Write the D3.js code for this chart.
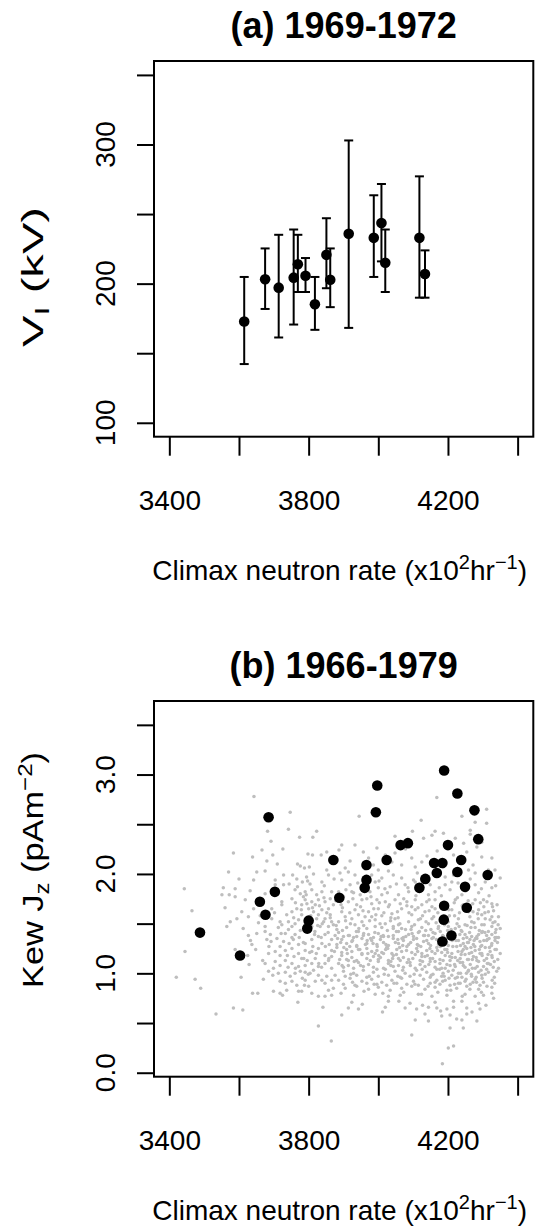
<!DOCTYPE html>
<html>
<head>
<meta charset="utf-8">
<script src="https://cdn.jsdelivr.net/npm/d3@7"></script>
<style>
  html, body { margin: 0; padding: 0; background: #fff; }
  svg { display: block; }
  text { font-family: "Liberation Sans", Arial, Helvetica, sans-serif; fill: #000; }
  .tick text, .lab { font-size: 28px; }
  .ytitle { font-size: 30px; }
  .title { font-size: 36px; font-weight: bold; }
</style>
</head>
<body>
<svg id="chart" width="540" height="1226"></svg>
<script>
// (a) 1969-1972 : V_I against Climax neutron rate, with error bars
const neutronA = [3615, 3675, 3714, 3757, 3769, 3791, 3818, 3851, 3862, 3915, 3987, 4009, 4020, 4118, 4134];
const vI       = [172.8, 203.1, 197.1, 204.3, 213.9, 205.7, 185.2, 220.7, 202.8, 235.8, 232.9, 243.6, 215.0, 232.9, 206.9];
const vILow    = [142.2, 181.8, 161.3, 170.6, 194.0, 194.0, 166.8, 196.7, 183.1, 168.2, 204.8, 216.0, 194.0, 189.9, 189.9];
const vIHigh   = [204.8, 225.3, 235.1, 238.9, 235.1, 218.4, 204.8, 247.0, 225.3, 302.9, 263.5, 271.6, 238.9, 277.1, 223.9];

// (b) 1966-1979 : Kew Jz, the selected days (black)
const neutronB = [3488, 3603, 3685, 3660, 3676, 3703, 3800, 3796, 3871, 3888, 3966, 3966, 3961, 3997, 3993, 4024, 4064, 4085, 4118,
                  4135, 4160, 4184, 4168, 4189, 4227, 4276, 4287, 4200, 4238, 4227, 4314, 4249, 4189, 4254, 4188, 4210, 4184];
const kewJz    = [1.41, 1.18, 2.57, 1.72, 1.59, 1.82, 1.53, 1.45, 2.14, 1.76, 2.09, 1.94, 1.86, 2.89, 2.62, 2.14, 2.29, 2.31, 1.86,
                  1.95, 2.11, 2.11, 2.01, 3.04, 2.81, 2.64, 2.35, 2.29, 2.14, 2.02, 1.99, 1.87, 1.68, 1.66, 1.54, 1.38, 1.32];

// (b) all other days (grey cloud), "neutron,Jz" pairs
const grayPairs = `
3643,2.78 3747,2.62 3682,2.43 3742,2.45 3823,2.43 3774,2.37 3812,2.37 3692,2.33 3726,2.25 3666,2.24 3584,2.21 3639,2.17
3697,2.19 3680,2.13 3710,2.10 3798,2.20 3811,2.19 3836,2.19 3852,2.22 3768,2.10 3776,2.08 3802,2.07 3788,2.06 3570,2.02
3651,2.02 3675,2.03 3728,1.99 3754,1.99 3766,1.95 3794,1.97 3814,2.00 3852,2.04 3857,1.99 3600,1.95 3642,1.94 3704,1.94
3704,1.89 3728,1.89 3744,1.90 3782,1.92 3804,1.90 3838,1.92 3443,1.85 3555,1.86 3589,1.85 3572,1.79 3632,1.83 3675,1.80
3656,1.75 3761,1.84 3776,1.80 3790,1.82 3809,1.84 3823,1.79 3838,1.82 3866,1.82 3551,1.79 3589,1.77 3618,1.74 3723,1.72
3752,1.75 3790,1.74 3809,1.72 3828,1.74 3847,1.72 3862,1.75 3465,1.63 3560,1.66 3608,1.62 3642,1.65 3694,1.65 3723,1.69
3752,1.62 3780,1.69 3800,1.65 3819,1.69 3838,1.64 3857,1.65 3871,1.69 3575,1.52 3594,1.55 3627,1.57 3656,1.51 3694,1.55
3718,1.52 3742,1.52 3771,1.54 3823,1.55 3847,1.55 3866,1.52 3565,1.47 3675,1.47 3713,1.46 3752,1.47 3790,1.49 3785,1.77
3795,1.70 3814,1.62 3828,1.59 3843,1.52 3857,1.47 3780,1.59 3766,1.65 3737,1.59 3723,1.49 3800,1.54 3809,1.47 3833,1.47
3862,1.59 3871,1.49
4168,2.77 4311,2.65 3945,2.58 4240,2.58 4278,2.52 4311,2.51 4123,2.54 4163,2.43 4130,2.36 4154,2.39 4187,2.41 4264,2.44
4264,2.40 4098,2.43 4048,2.38 4221,2.36 4297,2.32 3996,2.26 3895,2.29 3933,2.29 3887,2.24 4020,2.19 3972,2.16 4048,2.21
4096,2.16 4125,2.12 4216,2.19 4254,2.22 4297,2.17 4326,2.16 4067,2.09 4000,2.04 4029,2.03 4106,2.07 3890,2.01 3914,2.02
3933,1.99 3981,1.99 4010,1.96 4043,1.99 4067,1.96 4101,1.94 4192,1.97 4216,1.99 4259,2.04 4278,2.01 4335,2.04 4350,1.96
3895,1.94 3919,1.89 3991,1.92 4000,1.86 4034,1.87 4077,1.89 4106,1.92 4149,1.89 4192,1.89 4211,1.92 4278,1.89 4307,1.92
3886,1.82 3924,1.82 3948,1.79 3976,1.82 4010,1.79 4058,1.79 4087,1.82 4144,1.79 4163,1.82 4206,1.84 4240,1.79 4288,1.81
4326,1.86 3914,1.72 3953,1.74 3981,1.70 4020,1.72 4048,1.74 4082,1.72 4106,1.74 4139,1.72 4163,1.74 4221,1.74 4278,1.74
4302,1.74 4326,1.70 3895,1.62 3933,1.64 3972,1.62 4000,1.65 4039,1.60 4067,1.65 4106,1.64 4134,1.62 4163,1.65 4211,1.64
4288,1.64 4316,1.62 3886,1.52 3924,1.55 3953,1.52 3991,1.54 4020,1.50 4048,1.55 4087,1.52 4115,1.54 4154,1.55 4201,1.52
4230,1.55 4268,1.52 4307,1.55 4335,1.52 3909,1.46 3967,1.45 4010,1.46 4067,1.45 4125,1.46 4173,1.47 4221,1.45 4278,1.46
4326,1.47 4350,1.45 3900,1.77 3938,1.69 3967,1.75 3996,1.74 4029,1.67 4063,1.70 4096,1.67 4125,1.69 4154,1.67 4182,1.70
4244,1.69 4259,1.62 4297,1.59 4326,1.57 3905,1.57 3943,1.59 3981,1.57 4010,1.58 4058,1.49 4096,1.59 4144,1.50 4182,1.57
4249,1.49 4297,1.49 3933,1.49 3991,1.47 4043,1.47 4096,1.47 4201,1.47 4345,1.57
3627,1.38 3651,1.40 3675,1.42 3637,1.29 3589,1.24 3625,1.18 3648,1.24 3445,1.22 3629,1.09 3680,1.34 3692,1.32 3709,1.35
3733,1.40 3728,1.32 3744,1.30 3756,1.34 3771,1.29 3790,1.30 3809,1.34 3828,1.37 3847,1.39 3866,1.34 3685,1.20 3704,1.22
3718,1.18 3733,1.23 3752,1.25 3771,1.20 3790,1.23 3809,1.22 3828,1.25 3847,1.18 3866,1.23 3675,1.10 3704,1.12 3718,1.08
3733,1.13 3752,1.10 3771,1.07 3790,1.08 3809,1.10 3828,1.07 3847,1.10 3866,1.05 3420,0.96 3474,0.94 3606,0.96 3490,0.85
3670,0.94 3685,1.02 3713,1.00 3733,1.01 3747,0.97 3776,1.02 3790,1.01 3804,1.00 3828,0.98 3852,0.97 3866,0.93 3718,0.92
3733,0.90 3752,0.92 3790,0.93 3819,0.92 3847,0.90 3639,0.80 3654,0.80 3699,0.82 3718,0.80 3725,0.78 3771,0.82 3780,0.82
3809,0.80 3828,0.77 3847,0.77 3769,0.71 3841,0.66 3534,0.59 3584,0.65 3611,0.63 3828,0.47 3865,0.32 3690,1.39 3718,1.27
3761,1.39 3780,1.15 3819,1.15 3838,1.30 3857,1.13 3699,1.05 3761,1.00 3814,1.03 3838,0.93 3766,0.88 3800,0.87 3737,0.83
3871,0.85 3866,0.78
3886,1.41 3914,1.38 3943,1.42 3972,1.39 4000,1.40 4029,1.37 4058,1.42 4087,1.39 4115,1.41 4144,1.38 4163,1.40 4240,1.42
4268,1.37 4297,1.41 4326,1.39 4345,1.36
3895,1.34 3924,1.32 3953,1.35 3981,1.33 4015,1.31 4043,1.35 4072,1.33 4101,1.34 4130,1.32 4154,1.35 4230,1.33 4259,1.31
4283,1.35 4311,1.33
3881,1.26 3909,1.24 3938,1.27 3967,1.25 3996,1.23 4024,1.26 4053,1.24 4082,1.27 4110,1.25 4139,1.23 4168,1.26 4197,1.24
4225,1.27 4254,1.25 4278,1.23 4307,1.26 4335,1.24
3895,1.18 3924,1.16 3953,1.19 3986,1.17 4015,1.20 4043,1.18 4072,1.16 4106,1.19 4134,1.17 4163,1.20 4192,1.18 4221,1.16
4249,1.19 4273,1.17 4297,1.20 4326,1.18
3886,1.10 3914,1.08 3943,1.11 3972,1.09 4000,1.12 4029,1.10 4058,1.08 4091,1.11 4120,1.09 4149,1.12 4177,1.10 4206,1.08
4235,1.11 4264,1.09 4288,1.12 4316,1.10
3900,1.02 3929,1.00 3957,1.03 3986,1.01 4020,1.04 4048,1.02 4077,1.00 4110,1.03 4139,1.01 4168,1.04 4201,1.02 4230,1.00
4259,1.03 4288,1.01 4311,1.04 4340,1.02
3886,0.93 3919,0.95 3953,0.92 3981,0.94 4010,0.91 4039,0.93 4067,0.95 4101,0.92 4130,0.94 4163,0.91 4192,0.93 4221,0.95
4249,0.92 4278,0.94 4302,0.91
3905,0.85 3938,0.87 3972,0.84 4000,0.86 4034,0.83 4067,0.85 4096,0.87 4134,0.84 4163,0.86 4197,0.83 4225,0.85 4254,0.87
4288,0.84 4326,0.86
3929,0.78 3991,0.79 4029,0.77 4063,0.78 4115,0.79 4154,0.77 4197,0.78 4249,0.79 4278,0.77 4302,0.78
3924,0.71 4029,0.72 4091,0.70 4163,0.71 4240,0.72 4288,0.70
3914,0.65 3943,0.64 4020,0.66 4077,0.65 4110,0.64 4144,0.66 4168,0.65 4197,0.64 4216,0.66 4254,0.65 4292,0.64
3895,0.58 4134,0.59 4182,0.57 4206,0.58 4254,0.59 4106,0.53 4144,0.52 4225,0.54 4240,0.53 4283,0.52
4206,0.45 4244,0.45 4096,0.38 4201,0.25 4216,0.27 4184,0.09
4340,1.36 4334,0.90 4326,0.80 4350,1.20 4345,1.05
3900,1.37 3929,1.36 3957,1.38 3986,1.36 4015,1.37 4043,1.38 4072,1.36 4101,1.37 4130,1.38 4158,1.36 4187,1.37 4216,1.38
4254,1.36 4283,1.37 4311,1.38 4335,1.36
3881,1.29 3909,1.30 3938,1.28 3967,1.30 3996,1.29 4029,1.28 4058,1.30 4087,1.29 4115,1.28 4144,1.30 4173,1.29 4201,1.28
4244,1.30 4273,1.29 4297,1.28 4326,1.30
3895,1.21 3924,1.22 3953,1.20 3981,1.22 4010,1.21 4039,1.20 4067,1.22 4096,1.21 4125,1.20 4154,1.22 4182,1.21 4211,1.20
4240,1.22 4268,1.21 4292,1.20 4321,1.22
3909,1.14 3938,1.13 3967,1.15 4000,1.14 4029,1.13 4058,1.15 4087,1.14 4120,1.13 4149,1.15 4177,1.14 4206,1.13 4235,1.15
4259,1.14 4283,1.13 4311,1.15
3900,1.06 3929,1.05 3957,1.07 3986,1.06 4015,1.05 4043,1.07 4072,1.06 4106,1.05 4134,1.07 4163,1.06 4192,1.05 4221,1.07
4249,1.06 4278,1.05 4302,1.07 4330,1.06
3905,0.97 3938,0.98 3967,0.96 4000,0.97 4029,0.98 4063,0.96 4091,0.97 4120,0.98 4149,0.96 4182,0.97 4211,0.98 4240,0.96
4268,0.97 4297,0.98
3900,0.89 3933,0.88 3967,0.90 3996,0.89 4024,0.88 4053,0.90 4082,0.89 4115,0.88 4149,0.90 4177,0.89 4206,0.88 4235,0.90
4264,0.89 4292,0.88
3768,1.87 3797,1.93 3845,1.88 3873,1.95 3907,1.84 3941,1.91 3962,1.86 4002,1.93 4026,1.81 4052,1.90 4085,1.86 4118,1.83
4137,1.95 4175,1.86 4229,1.91 4252,1.83 4264,1.95 4296,1.85 4318,1.78 4337,1.88
3762,1.71 3779,1.64 3806,1.58 3831,1.68 3852,1.61 3878,1.73 3897,1.66 3918,1.61 3927,1.75 3949,1.67 3962,1.57 3987,1.65
4003,1.71 4016,1.61 4036,1.56 4055,1.62 4073,1.75 4088,1.61 4114,1.66 4127,1.58 4146,1.63 4171,1.61 4191,1.66 4204,1.58
4218,1.71 4233,1.61 4246,1.65 4263,1.57 4271,1.70 4285,1.60 4303,1.67 4312,1.72 4331,1.63 4341,1.69
3742,1.44 3761,1.50 3776,1.43 3798,1.51 3818,1.42 3839,1.50 3856,1.41 3879,1.48 3897,1.43 3920,1.50 3937,1.42 3958,1.48
3975,1.53 3990,1.41 4005,1.50 4026,1.43 4035,1.53 4052,1.42 4062,1.50 4078,1.44 4104,1.49 4118,1.42 4137,1.52 4151,1.44
4166,1.51 4178,1.42 4190,1.49 4211,1.41 4226,1.50 4238,1.43 4255,1.48 4262,1.41 4275,1.51 4290,1.43 4304,1.49 4316,1.42
4329,1.51 4338,1.44
3752,1.36 3785,1.31 3812,1.27 3836,1.36 3859,1.29 3876,1.38 3892,1.31 3918,1.27 3938,1.37 3963,1.29 3978,1.35 3997,1.27
4006,1.34 4022,1.29 4049,1.31 4061,1.26 4079,1.37 4093,1.31 4110,1.35 4122,1.27 4139,1.33 4150,1.28 4167,1.34 4178,1.27
4185,1.38 4196,1.31 4207,1.36 4214,1.27 4223,1.33 4236,1.28 4244,1.35 4256,1.31 4266,1.26 4275,1.33 4288,1.39 4294,1.27
4303,1.33 4318,1.35 4325,1.28 4342,1.31
3758,1.17 3796,1.13 3822,1.20 3858,1.15 3874,1.22 3889,1.14 3911,1.20 3931,1.12 3947,1.24 3977,1.13 3991,1.20 4006,1.16
4021,1.24 4036,1.12 4052,1.19 4063,1.13 4081,1.23 4099,1.15 4113,1.22 4127,1.12 4141,1.18 4156,1.15 4170,1.23 4186,1.13
4199,1.21 4211,1.16 4228,1.13 4238,1.19 4244,1.24 4256,1.14 4261,1.20 4281,1.16 4290,1.24 4304,1.13 4315,1.19 4333,1.12
4339,1.24
3762,1.05 3799,0.99 3837,1.06 3876,0.98 3896,1.08 3921,0.99 3949,1.08 3974,0.97 3996,1.04 4017,0.99 4036,1.08 4056,0.97
4070,1.03 4092,1.08 4103,0.99 4126,1.04 4145,1.09 4157,0.99 4176,1.04 4189,0.97 4197,1.09 4215,1.03 4227,0.96 4244,1.08
4253,1.00 4270,1.05 4281,0.96 4295,1.03 4307,0.99 4322,1.09 4333,0.96
3788,0.88 3857,0.83 3893,0.80 3926,0.91 3959,0.82 3988,0.89 4013,0.80 4045,0.90 4073,0.81 4105,0.89 4124,0.79 4143,0.87
4171,0.81 4185,0.92 4208,0.83 4230,0.90 4241,0.77 4263,0.84 4272,0.91 4296,0.81 4312,0.87 4331,0.75
3954,0.69 4012,0.61 4059,0.72 4127,0.68 4179,0.62 4216,0.72 4269,0.61 4309,0.68
3919,2.13 3957,2.22 3986,2.09 4039,2.12 4078,2.25 4140,2.18 4186,2.07 4230,2.12 4272,2.09 4316,2.04 3905,2.06 3962,2.05
4112,2.01 4169,2.23 4245,2.31 4283,2.27
4146,1.74 4159,1.57 4172,1.45 4181,1.78 4193,1.53 4202,1.64 4209,1.44 4219,1.58 4227,1.76 4232,1.47 4241,1.68 4249,1.39
4258,1.73 4266,1.46 4272,1.62 4279,1.35 4287,1.55 4293,1.71 4299,1.42 4306,1.61 4313,1.34 4321,1.54 4328,1.67 4336,1.41
4344,1.49
4148,1.25 4157,1.41 4163,1.12 4174,1.31 4182,1.05 4191,1.24 4199,1.43 4205,1.17 4212,1.33 4219,1.09 4229,1.22 4234,1.39
4242,1.11 4249,1.27 4258,1.02 4263,1.34 4270,1.14 4277,1.27 4284,1.07 4292,1.32 4298,1.18 4306,1.41 4313,1.10 4319,1.26
4327,1.16 4335,1.33 4343,1.14
4152,0.98 4168,0.93 4186,1.00 4203,0.95 4219,0.89 4236,1.00 4252,0.94 4267,0.99 4282,0.91 4298,0.95 4316,1.01 4327,0.93
3793,1.79 3811,1.66 3826,1.48 3844,1.76 3862,1.56 3881,1.44 3893,1.69 3906,1.53 3917,1.38 3929,1.81 3944,1.45 3956,1.63
3968,1.33 3979,1.77 3993,1.59 4008,1.37 4019,1.85 4032,1.69 4043,1.45 4057,1.56 4068,1.35 4082,1.68 4094,1.44 4108,1.78
4121,1.55 4133,1.38
3803,1.21 3817,1.39 3829,1.10 3848,1.27 3866,1.17 3883,1.35 3901,1.26 3914,1.13 3926,1.33 3943,1.24 3958,1.40 3970,1.20
3985,1.30 4001,1.18 4014,1.38 4027,1.25 4041,1.15 4056,1.34 4070,1.28 4083,1.11 4097,1.40 4112,1.29 4125,1.17 4136,1.43
3612,1.45 3633,1.33 3661,1.58 3686,1.27 3702,1.61 3721,1.40 3739,1.18 3757,1.56 3773,1.36 3786,1.15 3668,1.13 3697,0.98
3741,1.06 3782,0.95
`;
const grayPoints = grayPairs.trim().split(/\s+/).map(s => {
  const [x, y] = s.split(",").map(Number);
  return { x, y };
});

// axes
const xTicks = [3400, 3600, 3800, 4000, 4200, 4400];
const xTickLabels = ["3400", "", "3800", "", "4200", ""];
const yTicksA = [100, 150, 200, 250, 300, 350];
const yTickLabelsA = ["100", "", "200", "", "300", ""];
const yTicksB = [0, 0.5, 1, 1.5, 2, 2.5, 3, 3.5];
const yTickLabelsB = ["0.0", "", "1.0", "", "2.0", "", "3.0", ""];

const svg = d3.select("#chart");
const plotLeft = 154, plotRight = 533.3, plotH = 375.7;

const x = d3.scaleLinear().domain([3356, 4445]).range([plotLeft, plotRight]);

function drawPanel(top, yDomain, yTicks, yLabels, title) {
  const bottom = top + plotH;
  const y = d3.scaleLinear().domain(yDomain).range([bottom, top]);
  const g = svg.append("g");

  g.append("g")
    .attr("transform", `translate(0,${bottom})`)
    .call(d3.axisBottom(x).tickValues(xTicks).tickSize(19).tickPadding(34)
      .tickFormat((d, i) => xTickLabels[i]))
    .call(a => a.attr("font-size", null).attr("font-family", null))
    .call(a => a.select(".domain").remove())
    .call(a => a.selectAll("line").attr("stroke-width", 2));

  g.append("g")
    .attr("transform", `translate(${plotLeft},0)`)
    .call(d3.axisLeft(y).tickValues(yTicks).tickSize(17).tickFormat(""))
    .call(a => a.select(".domain").remove())
    .call(a => a.selectAll("line").attr("stroke-width", 2));

  // rotated y tick labels, as R draws them
  g.selectAll(".ylab")
    .data(yTicks.filter((d, i) => yLabels[i] !== ""))
    .join("text")
    .attr("class", "lab")
    .attr("text-anchor", "middle")
    .attr("transform", d => `translate(115,${y(d)}) rotate(-90)`)
    .text(d => yLabels[yTicks.indexOf(d)]);

  g.append("rect")
    .attr("x", plotLeft).attr("y", top)
    .attr("width", plotRight - plotLeft).attr("height", plotH)
    .attr("fill", "none").attr("stroke", "#000").attr("stroke-width", 2);

  g.append("text")
    .attr("class", "title")
    .attr("text-anchor", "middle")
    .attr("x", (plotLeft + plotRight) / 2)
    .attr("y", top - 23.5)
    .text(title);

  // x axis title with superscripts
  const xt = g.append("text")
    .attr("class", "lab")
    .attr("text-anchor", "middle")
    .attr("x", (plotLeft + plotRight) / 2 - 4)
    .attr("y", top + 519);
  xt.append("tspan").text("Climax neutron rate (x10");
  xt.append("tspan").attr("font-size", 20).attr("dy", -11).text("2");
  xt.append("tspan").attr("dy", 11).text("hr");
  xt.append("tspan").attr("font-size", 20).attr("dy", -11).text("\u22121");
  xt.append("tspan").attr("dy", 11).text(")");

  return { g, y };
}

// ---- panel (a)
const A = drawPanel(61, [90, 360], yTicksA, yTickLabelsA, "(a) 1969-1972");

const ya = A.g.append("text")
  .attr("class", "ytitle")
  .attr("text-anchor", "middle")
  .attr("textLength", 140)
  .attr("lengthAdjust", "spacingAndGlyphs")
  .attr("transform", "translate(43,277) rotate(-90)");
ya.append("tspan").text("V");
ya.append("tspan").attr("font-size", 21).attr("dy", 6).text("I");
ya.append("tspan").attr("dy", -6).text(" (kV)");

const barsA = A.g.append("g").attr("stroke", "#000").attr("stroke-width", 2);
neutronA.forEach((n, i) => {
  const cx = x(n);
  barsA.append("line").attr("x1", cx).attr("x2", cx).attr("y1", A.y(vILow[i])).attr("y2", A.y(vIHigh[i]));
  barsA.append("line").attr("x1", cx - 4.5).attr("x2", cx + 4.5).attr("y1", A.y(vILow[i])).attr("y2", A.y(vILow[i]));
  barsA.append("line").attr("x1", cx - 4.5).attr("x2", cx + 4.5).attr("y1", A.y(vIHigh[i])).attr("y2", A.y(vIHigh[i]));
});

A.g.append("g").selectAll("circle")
  .data(neutronA)
  .join("circle")
  .attr("cx", d => x(d))
  .attr("cy", (d, i) => A.y(vI[i]))
  .attr("r", 5.3)
  .attr("fill", "#000");

// ---- panel (b)
const B = drawPanel(701, [-0.04, 3.74], yTicksB, yTickLabelsB, "(b) 1966-1979");

const yb = B.g.append("text")
  .attr("class", "ytitle")
  .attr("text-anchor", "middle")
  .attr("textLength", 236)
  .attr("lengthAdjust", "spacingAndGlyphs")
  .attr("transform", "translate(43,870) rotate(-90)");
yb.append("tspan").text("Kew J");
yb.append("tspan").attr("font-size", 21).attr("dy", 6).text("z");
yb.append("tspan").attr("dy", -6).text(" (pAm");
yb.append("tspan").attr("font-size", 21).attr("dy", -11).text("\u22122");
yb.append("tspan").attr("dy", 11).text(")");

B.g.append("g").selectAll("circle")
  .data(grayPoints)
  .join("circle")
  .attr("cx", d => x(d.x))
  .attr("cy", d => B.y(d.y))
  .attr("r", 1.75)
  .attr("fill", "#bebebe");

B.g.append("g").selectAll("circle")
  .data(neutronB)
  .join("circle")
  .attr("cx", d => x(d))
  .attr("cy", (d, i) => B.y(kewJz[i]))
  .attr("r", 5.3)
  .attr("fill", "#000");
</script>
</body>
</html>
